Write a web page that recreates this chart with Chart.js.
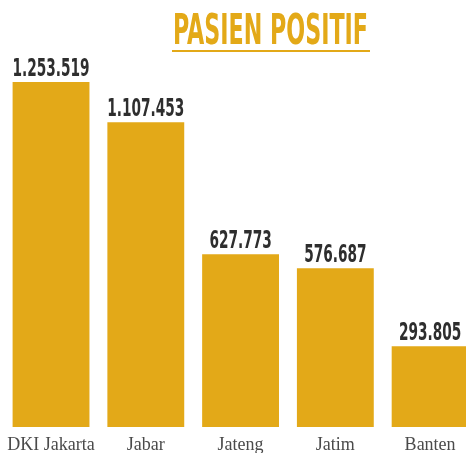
<!DOCTYPE html>
<html>
<head>
<meta charset="utf-8">
<script src="https://cdn.jsdelivr.net/npm/chart.js@4"></script>
<style>
  html, body { margin: 0; padding: 0; background: #fff; }
  #wrap { width: 466px; height: 453px; overflow: hidden; }
</style>
</head>
<body>
<div id="wrap"><canvas id="chart" width="480" height="453"></canvas></div>
<script>
// data
const provinsi = ['DKI Jakarta', 'Jabar', 'Jateng', 'Jatim', 'Banten'];
const pasienPositif = [1253519, 1107453, 627773, 576687, 293805];
const judul = 'PASIEN POSITIF';

const emas = '#e3a918';
const condensed = "'Liberation Sans Narrow', 'DejaVu Sans Condensed', 'DejaVu Sans', sans-serif";

// titik sebagai pemisah ribuan
function formatAngka(v) {
    return String(v).replace(/\B(?=(\d{3})+(?!\d))/g, '.');
}

// label angka di atas batang
const labelBatang = {
    id: 'labelBatang',
    afterDatasetsDraw(chart) {
        const ctx = chart.ctx;
        const meta = chart.getDatasetMeta(0);
        ctx.save();
        ctx.font = 'bold 25px ' + condensed;
        ctx.fillStyle = '#2e2e2e';
        ctx.textBaseline = 'alphabetic';
        ctx.textAlign = 'center';
        // skala horizontal supaya lebarnya mirip huruf sempit aslinya
        const sx = 77 / ctx.measureText(formatAngka(pasienPositif[0])).width;
        meta.data.forEach((bar, i) => {
            ctx.save();
            ctx.translate(bar.x, bar.y - 6);
            ctx.scale(sx, 1);
            ctx.fillText(formatAngka(pasienPositif[i]), 0, 0);
            ctx.restore();
        });
        ctx.restore();
    }
};

// judul + garis bawah
const judulPlugin = {
    id: 'judulPlugin',
    afterDraw(chart) {
        const ctx = chart.ctx;
        ctx.save();
        ctx.font = 'bold 43px ' + condensed;
        ctx.fillStyle = emas;
        ctx.textBaseline = 'alphabetic';
        ctx.textAlign = 'left';
        const w = ctx.measureText(judul).width;
        ctx.translate(173, 44);
        ctx.scale(195 / w, 1);
        ctx.fillText(judul, 0, 0);
        ctx.restore();
        ctx.fillStyle = emas;
        ctx.fillRect(172, 50, 198, 2);
    }
};

const ctx = document.querySelector('#chart').getContext('2d');
const chart = new Chart(ctx, {
    type: 'bar',
    data: {
        labels: provinsi,
        datasets: [{
            label: judul,
            data: pasienPositif,
            backgroundColor: emas,
            borderWidth: 0,
            categoryPercentage: 1,
            barPercentage: 0.811
        }]
    },
    options: {
        responsive: false,
        animation: false,
        layout: {
            padding: { top: 82, left: 3, right: 2.5, bottom: 0 }
        },
        scales: {
            x: {
                grid: { display: false, drawTicks: false },
                border: { display: false },
                afterFit(scale) { scale.height = 26; },
                ticks: {
                    padding: 7,
                    color: '#4a4a4a',
                    font: { family: "'Liberation Serif', 'DejaVu Serif', serif", size: 18 }
                }
            },
            y: {
                display: false,
                min: 0,
                max: Math.max(...pasienPositif)
            }
        },
        plugins: {
            legend: { display: false },
            tooltip: { enabled: false }
        }
    },
    plugins: [labelBatang, judulPlugin]
});
</script>
</body>
</html>
